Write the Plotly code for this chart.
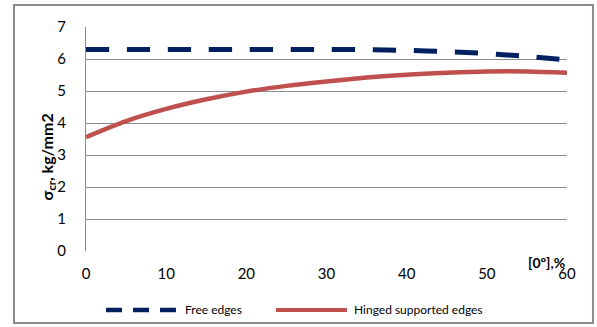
import plotly.graph_objects as go

# Critical stress vs. share of 0° plies, two edge conditions
x_pct = [0, 5, 10, 15, 20, 25, 30, 35, 40, 45, 50, 55, 60]
free_edges = [6.30, 6.30, 6.30, 6.30, 6.30, 6.30, 6.30, 6.29, 6.27, 6.23, 6.17, 6.08, 5.97]
hinged_edges = [3.56, 4.06, 4.44, 4.74, 4.98, 5.16, 5.30, 5.42, 5.51, 5.57, 5.61, 5.61, 5.57]

y_ticks = [0, 1, 2, 3, 4, 5, 6, 7]
x_ticks = [0, 10, 20, 30, 40, 50, 60]

series_names = ["Free edges", "Hinged supported edges"]
series_colors = ["#002060", "#C0504D"]

FONT = "Lato"
GRID = "#8c8c8c"

fig = go.Figure()
fig.add_trace(go.Scatter(
    x=x_pct, y=free_edges, mode="lines", name=series_names[0],
    line=dict(color=series_colors[0], width=5, dash="23px,18px", shape="spline", smoothing=0.8),
))
fig.add_trace(go.Scatter(
    x=x_pct, y=hinged_edges, mode="lines", name=series_names[1],
    line=dict(color=series_colors[1], width=4.5, shape="spline", smoothing=0.8),
))

# legend row drawn below the plot (longer line samples than the built-in legend)
leg_y = -0.263
shapes = [
    dict(type="rect", xref="paper", yref="paper",
         x0=-0.1497, x1=1.054, y0=-0.321, y1=1.098,
         line=dict(color=GRID, width=2), fillcolor="rgba(0,0,0,0)", layer="below"),
    dict(type="line", xref="paper", yref="paper", x0=0.0416, x1=0.187, y0=leg_y, y1=leg_y,
         line=dict(color=series_colors[0], width=4.5, dash="16px,11px")),
    dict(type="line", xref="paper", yref="paper", x0=0.395, x1=0.5426, y0=leg_y, y1=leg_y,
         line=dict(color=series_colors[1], width=4)),
]

fig.update_layout(
    width=597, height=327,
    margin=dict(l=86, r=30, t=27, b=76),
    paper_bgcolor="white", plot_bgcolor="white",
    font=dict(family=FONT, size=15, color="#000000"),
    showlegend=False,
    xaxis=dict(
        range=[0, 60], tickvals=x_ticks, showgrid=False, zeroline=False,
        showline=False, ticks="", ticklabelstandoff=12,
    ),
    yaxis=dict(
        range=[0, 7], tickvals=y_ticks, showgrid=True, gridcolor=GRID, gridwidth=1.3,
        zeroline=False, showline=True, linecolor=GRID, linewidth=1.3,
        ticks="", ticklabelstandoff=16,
    ),
    shapes=shapes,
    annotations=[
        dict(text="<b>σ<sub>cr</sub>, kg/mm2</b>", xref="paper", yref="paper",
             x=-0.106, y=0.42, textangle=-90, showarrow=False,
             font=dict(family=FONT, size=16)),
        dict(text="<b>[0º],%</b>", xref="paper", yref="paper",
             x=1.0, y=-0.052, showarrow=False, xanchor="right", yanchor="middle",
             font=dict(family=FONT, size=14)),
        dict(text=series_names[0], xref="paper", yref="paper", x=0.2017, y=leg_y,
             xanchor="left", yanchor="middle", showarrow=False,
             font=dict(family=FONT, size=12)),
        dict(text=series_names[1], xref="paper", yref="paper", x=0.553, y=leg_y,
             xanchor="left", yanchor="middle", showarrow=False,
             font=dict(family=FONT, size=12)),
    ],
)

fig.write_html("out.html")
